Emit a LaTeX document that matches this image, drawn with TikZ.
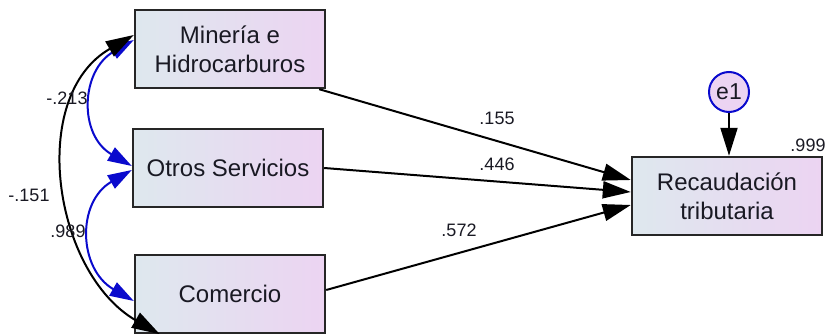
\documentclass[tikz,border=0pt]{standalone}
\usepackage{fontspec}
\setmainfont{Liberation Sans}
\usetikzlibrary{arrows.meta}

\definecolor{boxleft}{RGB}{222,232,238}
\definecolor{boxright}{RGB}{236,212,242}
\definecolor{covblue}{RGB}{10,10,205}
\definecolor{textdark}{RGB}{25,25,35}

\begin{document}
\begin{tikzpicture}[x=1pt,y=-1pt,>={Triangle[length=28pt,width=17pt]},
  var/.style={draw=black!85,line width=2.4pt,left color=boxleft,right color=boxright,
    minimum width=190pt,minimum height=78pt,inner sep=0pt,align=center,
    font=\fontsize{24}{29}\selectfont,text=textdark},
  err/.style={circle,draw=covblue,line width=2pt,fill=boxright,minimum size=40pt,
    inner sep=0pt,font=\fontsize{23}{26}\selectfont,text=textdark},
  regline/.style={->,line width=2pt},
  cov/.style={arrows={Triangle[length=24pt,width=15pt]-Triangle[length=24pt,width=15pt]},
    line width=2pt,covblue},
  coef/.style={font=\fontsize{18}{20}\selectfont,text=textdark}]
  \useasboundingbox (0,0) rectangle (830,334);
  % observed variables
  \node[var] (min) at (230,49) {Minería e\\Hidrocarburos};
  \node[var] (otr) at (228,168) {Otros Servicios};
  \node[var] (com) at (230,294) {Comercio};
  \node[var] (rec) at (727,196) {Recaudación\\tributaria};
  \node[err] (e1) at (729,92) {e1};
  % regression paths
  \draw[regline] ([xshift=-7pt]min.south east) -- ([yshift=16pt]rec.west);
  \draw[regline] (otr.east) -- ([yshift=4pt]rec.west);
  \draw[regline] ([yshift=4pt]com.east) -- ([yshift=-9pt]rec.west);
  \draw[regline] (e1.south) -- (e1.south |- rec.north);
  % covariances
  \draw[cov] ([yshift=9pt]min.west) to[out=210,in=150,looseness=1.25] ([yshift=2pt]otr.west);
  \draw[cov] ([yshift=-2pt]otr.west) to[out=210,in=150,looseness=1.25] ([yshift=-7pt]com.west);
  \draw[<->,line width=2pt] ([yshift=14pt]min.west) to[out=210,in=150,looseness=1.05] ([xshift=26pt]com.south west);
  % estimates
  \node[coef] (c1) at (497,118) {.155};
  \node[coef] (c2) at (497,164) {.446};
  \node[coef] (c3) at (459,230) {.572};
  \node[coef] (r2) at (808,145) {.999};
  \node[coef] (k1) at (67,98) {-.213};
  \node[coef] (k2) at (29,195) {-.151};
  \node[coef] (k3) at (68,231) {.989};
\end{tikzpicture}
\end{document}
